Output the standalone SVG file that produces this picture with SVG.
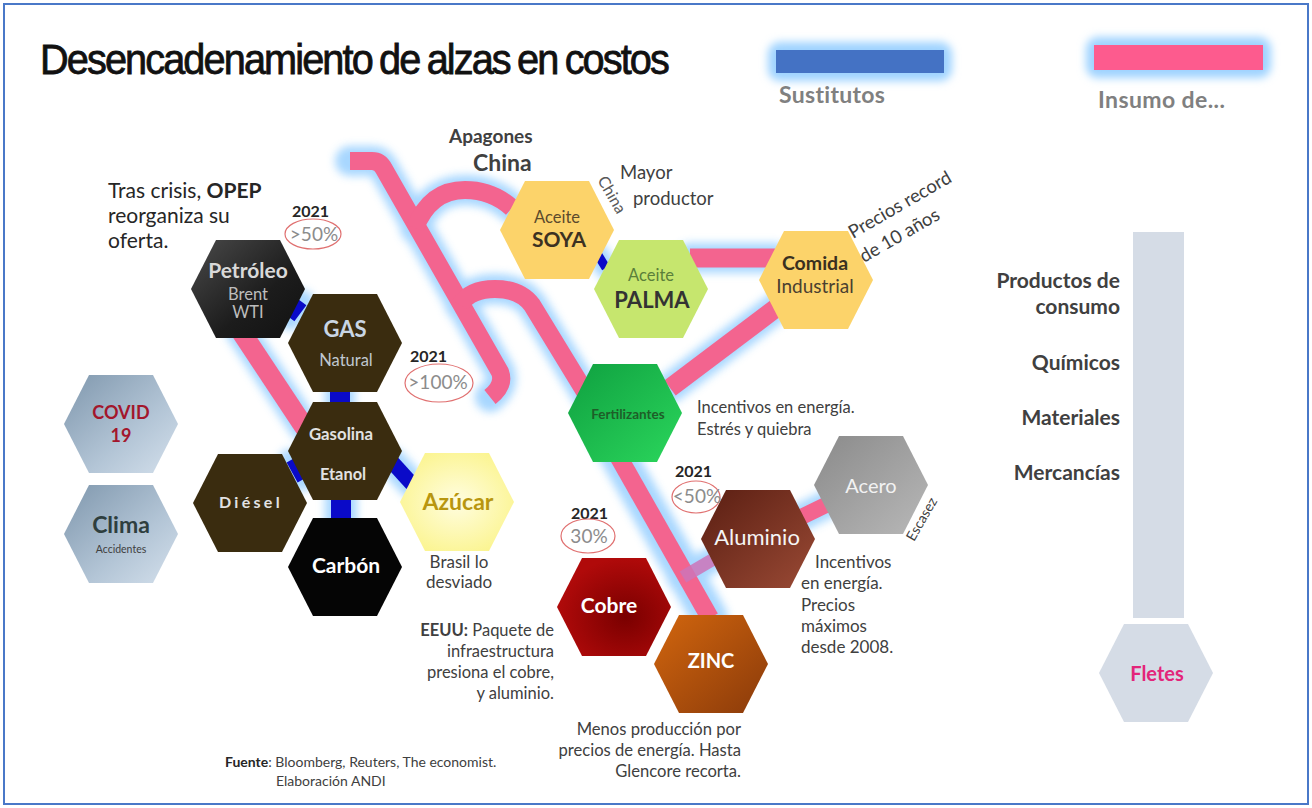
<svg xmlns="http://www.w3.org/2000/svg" width="1312" height="808" viewBox="0 0 1312 808">
<style>
.t{font-family:Lato,"Liberation Sans",sans-serif;}
.b{font-weight:bold;}
.ann{font-family:Lato,"Liberation Sans",sans-serif;fill:#404040;}
.yr{font-family:Lato,"Liberation Sans",sans-serif;font-weight:bold;font-size:16px;fill:#262626;}
.pct{font-family:Lato,"Liberation Sans",sans-serif;font-size:19px;fill:#8c8c8c;}
.ell{fill:none;stroke:#e07070;stroke-width:1.2;}
.pink{fill:none;stroke:#f3648f;stroke-linecap:butt;stroke-linejoin:round;}
.glow{fill:none;stroke:#9fd3ff;stroke-linecap:round;stroke-linejoin:round;}
.sub{stroke:#0a0ac8;stroke-linecap:butt;}
.lbl{font-family:Lato,"Liberation Sans",sans-serif;font-weight:bold;font-size:21px;fill:#404040;text-anchor:end;}
</style>
<defs>
<path id="hex" d="M-57,0 L-32,-49 L32,-49 L57,0 L32,49 L-32,49 Z"/>
<filter id="blur" x="-50%" y="-50%" width="200%" height="200%"><feGaussianBlur stdDeviation="4"/></filter>
<linearGradient id="gPet" x1="0" y1="0" x2="1" y2="1"><stop offset="0" stop-color="#4a4a4a"/><stop offset="0.6" stop-color="#1c1c1c"/><stop offset="1" stop-color="#111"/></linearGradient>
<linearGradient id="gBlue" x1="0" y1="0" x2="1" y2="1"><stop offset="0" stop-color="#7f97ad"/><stop offset="0.6" stop-color="#b3c5d6"/><stop offset="1" stop-color="#d4e0ec"/></linearGradient>
<radialGradient id="gAzu" cx="0.5" cy="0.5" r="0.6"><stop offset="0" stop-color="#fffde0"/><stop offset="1" stop-color="#fbf48c"/></radialGradient>
<linearGradient id="gFer" x1="0" y1="0" x2="1" y2="1"><stop offset="0" stop-color="#0fa040"/><stop offset="1" stop-color="#2bd65c"/></linearGradient>
<linearGradient id="gAce" x1="0" y1="0" x2="1" y2="1"><stop offset="0" stop-color="#8a8a8a"/><stop offset="1" stop-color="#b8b8b8"/></linearGradient>
<linearGradient id="gAlu" x1="0" y1="0" x2="1" y2="1"><stop offset="0" stop-color="#5a1e12"/><stop offset="1" stop-color="#9a4a35"/></linearGradient>
<radialGradient id="gCob" cx="0.6" cy="0.6" r="0.6"><stop offset="0" stop-color="#7a0000"/><stop offset="1" stop-color="#b00a0a"/></radialGradient>
<linearGradient id="gZin" x1="0" y1="0" x2="1" y2="1"><stop offset="0" stop-color="#d2660e"/><stop offset="1" stop-color="#8a3a0a"/></linearGradient>
</defs>
<rect x="0" y="0" width="1312" height="808" fill="#ffffff"/>
<rect x="4" y="4" width="1304" height="800" fill="none" stroke="#4a78c8" stroke-width="2"/>

<text x="40" y="74" font-family="Liberation Sans, Arial, sans-serif" font-size="42" fill="#111" stroke="#111" stroke-width="0.8" textLength="628" lengthAdjust="spacingAndGlyphs" letter-spacing="-2" word-spacing="-2">Desencadenamiento de alzas en costos</text>

<g id="legend">
<rect x="768" y="42" width="184" height="39" rx="12" fill="#9fd3ff" filter="url(#blur)"/>
<rect x="776" y="50" width="168" height="23" fill="#4472c4"/>
<text x="779" y="103" class="t b" font-size="23" fill="#808080" letter-spacing="0.3">Sustitutos</text>
<rect x="1086" y="37" width="185" height="41" rx="12" fill="#9fd3ff" filter="url(#blur)"/>
<rect x="1094" y="45" width="169" height="25" fill="#fd5b8e"/>
<text x="1098" y="108" class="t b" font-size="23" fill="#808080" letter-spacing="0.4">Insumo de...</text>
</g>

<g id="connectors">
<g filter="url(#blur)" opacity="0.9">
<path class="glow" stroke-width="30" d="M350,161 L372,161 Q380,161 384,169 L500,372 Q505,385 490,397"/>
<path class="glow" stroke-width="30" d="M415,228 Q430,190 465,190 Q492,190 512,208"/>
<path class="glow" stroke-width="30" d="M460,305 Q470,289 495,289 Q520,289 532,305 L590,400"/>
<path class="glow" stroke-width="36" d="M605,433 L710,618"/>
<path class="glow" stroke-width="30" d="M690,258 L775,258"/>
<path class="glow" stroke-width="30" d="M670,388 L780,305"/>
<path class="glow" stroke-width="30" d="M240,330 L305,428"/>
<path class="glow" stroke-width="26" d="M680,578 L712,560"/>
<path class="glow" stroke-width="28" d="M795,520 L830,503"/>
<path class="glow" stroke-width="24" d="M290,318 L302,302"/>
<path class="glow" stroke-width="30" d="M340,388 L340,406"/>
<path class="glow" stroke-width="22" d="M290,460 L302,480"/>
<path class="glow" stroke-width="28" d="M392,462 L412,484"/>
<path class="glow" stroke-width="32" d="M341,498 L341,522"/>
<path class="glow" stroke-width="22" d="M598,255 L606,268"/>
</g>
<path class="pink" stroke-width="18" d="M350,161 L372,161 Q380,161 384,169 L500,372 Q505,385 490,397"/>
<path class="pink" stroke-width="18" d="M415,228 Q430,190 465,190 Q492,190 512,208"/>
<path class="pink" stroke-width="18" d="M460,305 Q470,289 495,289 Q520,289 532,305 L590,400"/>
<path class="pink" stroke-width="18" d="M605,433 L710,618"/>
<path class="pink" stroke-width="19" d="M690,258 L775,258"/>
<path class="pink" stroke-width="19" d="M670,388 L780,305"/>
<path class="pink" stroke-width="20" d="M240,330 L305,428"/>
<path fill="none" stroke="#cc74b8" stroke-width="13" opacity="0.85" d="M683,577 L712,560"/>
<path class="pink" stroke-width="16" d="M795,520 L830,503"/>
<path class="sub" stroke-width="11" d="M290,318 L302,302"/>
<path class="sub" stroke-width="20" d="M340,390 L340,404"/>
<path class="sub" stroke-width="10" d="M291,460 L302,480"/>
<path class="sub" stroke-width="15" d="M392,462 L412,484"/>
<path class="sub" stroke-width="20" d="M341,498 L341,520"/>
<path class="sub" stroke-width="9" d="M598,255 L606,268"/>
</g>

<g id="petroleo"><use href="#hex" transform="translate(248,289)" fill="url(#gPet)"/>
<text x="248" y="278" class="t b" font-size="21" fill="#d9d9d9" text-anchor="middle">Petróleo</text>
<text x="248" y="300" class="t" font-size="16.5" fill="#bdbdbd" text-anchor="middle">Brent</text>
<text x="248" y="318" class="t" font-size="16.5" fill="#bdbdbd" text-anchor="middle">WTI</text></g>

<g id="gas"><use href="#hex" transform="translate(345,343)" fill="#3a2c0f"/>
<text x="345" y="337" class="t b" font-size="22" fill="#c9d6e4" text-anchor="middle">GAS</text>
<text x="346" y="366" class="t" font-size="16.5" fill="#c0c8d0" text-anchor="middle">Natural</text></g>

<g id="gasolina"><use href="#hex" transform="translate(345,451)" fill="#3a2c0f"/>
<text x="341" y="440" class="t b" font-size="16.8" fill="#e2e2e2" text-anchor="middle">Gasolina</text>
<text x="343" y="480" class="t b" font-size="16.4" fill="#e2e2e2" text-anchor="middle">Etanol</text></g>

<g id="diesel"><use href="#hex" transform="translate(250,503)" fill="#3a2c0f"/>
<text x="251" y="508" class="t b" font-size="16" fill="#e2e2e2" text-anchor="middle" letter-spacing="3.3">Diésel</text></g>

<g id="carbon"><use href="#hex" transform="translate(345,567)" fill="#050505"/>
<text x="346" y="573" class="t b" font-size="21" fill="#ffffff" text-anchor="middle">Carbón</text></g>

<g id="azucar"><use href="#hex" transform="translate(457,502)" fill="url(#gAzu)"/>
<text x="458" y="510" class="t b" font-size="23" fill="#b8960f" text-anchor="middle">Azúcar</text></g>

<g id="covid"><use href="#hex" transform="translate(121,424)" fill="url(#gBlue)"/>
<text x="121" y="419" class="t b" font-size="18" fill="#a3162c" text-anchor="middle">COVID</text>
<text x="121" y="442" class="t b" font-size="18" fill="#a3162c" text-anchor="middle">19</text></g>

<g id="clima"><use href="#hex" transform="translate(121,534)" fill="url(#gBlue)"/>
<text x="121" y="533" class="t b" font-size="23" fill="#2e3e3e" text-anchor="middle">Clima</text>
<text x="121" y="553" class="t" font-size="10.5" fill="#404040" text-anchor="middle">Accidentes</text></g>

<g id="soya"><use href="#hex" transform="translate(557,230)" fill="#fcd36a"/>
<text x="557" y="223" class="t" font-size="16.5" fill="#5b4a2c" text-anchor="middle">Aceite</text>
<text x="559" y="247" class="t b" font-size="21" fill="#3c3222" text-anchor="middle">SOYA</text></g>

<g id="palma"><use href="#hex" transform="translate(651,289)" fill="#c6e66e"/>
<text x="651" y="281" class="t" font-size="16.5" fill="#5a7f3a" text-anchor="middle">Aceite</text>
<text x="652" y="308" class="t b" font-size="22" fill="#333333" text-anchor="middle">PALMA</text></g>

<g id="comida"><use href="#hex" transform="translate(816,280)" fill="#fcd36a"/>
<text x="815" y="270" class="t b" font-size="19.5" fill="#3a3020" text-anchor="middle">Comida</text>
<text x="815" y="293" class="t" font-size="19" fill="#4a4030" text-anchor="middle">Industrial</text></g>

<g id="fertilizantes"><use href="#hex" transform="translate(625,413)" fill="url(#gFer)"/>
<text x="628" y="419" class="t b" font-size="13.5" fill="#1e5e28" text-anchor="middle">Fertilizantes</text></g>

<g id="acero"><use href="#hex" transform="translate(871,485)" fill="url(#gAce)"/>
<text x="871" y="493" class="t" font-size="20" fill="#f2f2f2" text-anchor="middle">Acero</text></g>

<g id="aluminio"><use href="#hex" transform="translate(758,539)" fill="url(#gAlu)"/>
<text x="757" y="545" class="t" font-size="22" fill="#f5f5f5" text-anchor="middle">Aluminio</text></g>

<g id="cobre"><use href="#hex" transform="translate(614,607)" fill="url(#gCob)"/>
<text x="609" y="613" class="t b" font-size="21" fill="#ffffff" text-anchor="middle">Cobre</text></g>

<g id="zinc"><use href="#hex" transform="translate(711,664)" fill="url(#gZin)"/>
<text x="711" y="668" class="t b" font-size="20" fill="#ffffff" text-anchor="middle">ZINC</text></g>

<g id="fletes">
<rect x="1133" y="232" width="51" height="386" fill="#d5dce6"/>
<use href="#hex" transform="translate(1156,673)" fill="#d5dce6"/>
<text x="1157" y="681" class="t b" font-size="20" fill="#e3257a" text-anchor="middle">Fletes</text>
<text x="1120" y="288" class="lbl">Productos de</text>
<text x="1120" y="314" class="lbl">consumo</text>
<text x="1120" y="370" class="lbl">Químicos</text>
<text x="1120" y="425" class="lbl">Materiales</text>
<text x="1120" y="480" class="lbl">Mercancías</text>
</g>

<g id="annotations">
<text class="ann" font-size="21" style="fill:#262626"><tspan x="108" y="198">Tras crisis, <tspan font-weight="bold">OPEP</tspan></tspan><tspan x="108" y="223">reorganiza su</tspan><tspan x="108" y="248">oferta.</tspan></text>
<text x="292" y="217" class="yr">2021</text>
<ellipse cx="313" cy="234" rx="28" ry="15" class="ell"/>
<text x="314" y="241" class="pct" text-anchor="middle">&gt;50%</text>
<text x="410" y="362" class="yr">2021</text>
<ellipse cx="439" cy="383" rx="34" ry="19" class="ell"/>
<text x="438" y="389" class="pct" text-anchor="middle">&gt;100%</text>
<text x="449" y="143" class="t b" font-size="19" fill="#404040">Apagones</text>
<text x="473" y="171" class="t b" font-size="23" fill="#404040">China</text>
<text x="597" y="180" class="t" font-size="16" fill="#595959" transform="rotate(60 597 180)">China</text>
<text x="620" y="179" class="ann" font-size="18.5">Mayor</text>
<text x="633" y="205" class="ann" font-size="18.5">productor</text>
<text x="853" y="239" class="ann" font-size="18.5" transform="rotate(-30 853 239)">Precios record</text>
<text x="864" y="263" class="ann" font-size="18.5" transform="rotate(-30 864 263)">de 10 años</text>
<text x="697" y="413" class="ann" font-size="16.5">Incentivos en energía.</text>
<text x="697" y="435" class="ann" font-size="16.5">Estrés y quiebra</text>
<text x="675" y="477" class="yr">2021</text>
<ellipse cx="696" cy="497" rx="24" ry="16" class="ell"/>
<text x="697" y="503" class="pct" text-anchor="middle">&lt;50%</text>
<text x="571" y="519" class="yr">2021</text>
<ellipse cx="588" cy="536" rx="27" ry="17" class="ell"/>
<text x="589" y="543" class="pct" text-anchor="middle">30%</text>
<text x="914" y="542" class="ann" font-size="14" transform="rotate(-60 914 542)">Escasez</text>
<text class="ann" font-size="17"><tspan x="815" y="568">Incentivos</tspan><tspan x="801" y="589">en energía.</tspan><tspan x="801" y="611">Precios</tspan><tspan x="801" y="632">máximos</tspan><tspan x="801" y="653">desde 2008.</tspan></text>
<text class="ann" font-size="17" text-anchor="middle"><tspan x="459" y="568">Brasil lo</tspan><tspan x="459" y="588">desviado</tspan></text>
<text class="ann" font-size="16.5" text-anchor="end"><tspan x="554" y="636"><tspan font-weight="bold">EEUU:</tspan> Paquete de</tspan><tspan x="554" y="657">infraestructura</tspan><tspan x="554" y="678">presiona el cobre,</tspan><tspan x="554" y="699">y aluminio.</tspan></text>
<text class="ann" font-size="16.6" text-anchor="end"><tspan x="741" y="735">Menos producción por</tspan><tspan x="741" y="756">precios de energía. Hasta</tspan><tspan x="741" y="777">Glencore recorta.</tspan></text>
<text class="ann" font-size="14"><tspan x="225" y="767"><tspan font-weight="bold" style="fill:#262626">Fuente</tspan>: Bloomberg, Reuters, The economist.</tspan><tspan x="276" y="786">Elaboración ANDI</tspan></text>
</g>
</svg>
